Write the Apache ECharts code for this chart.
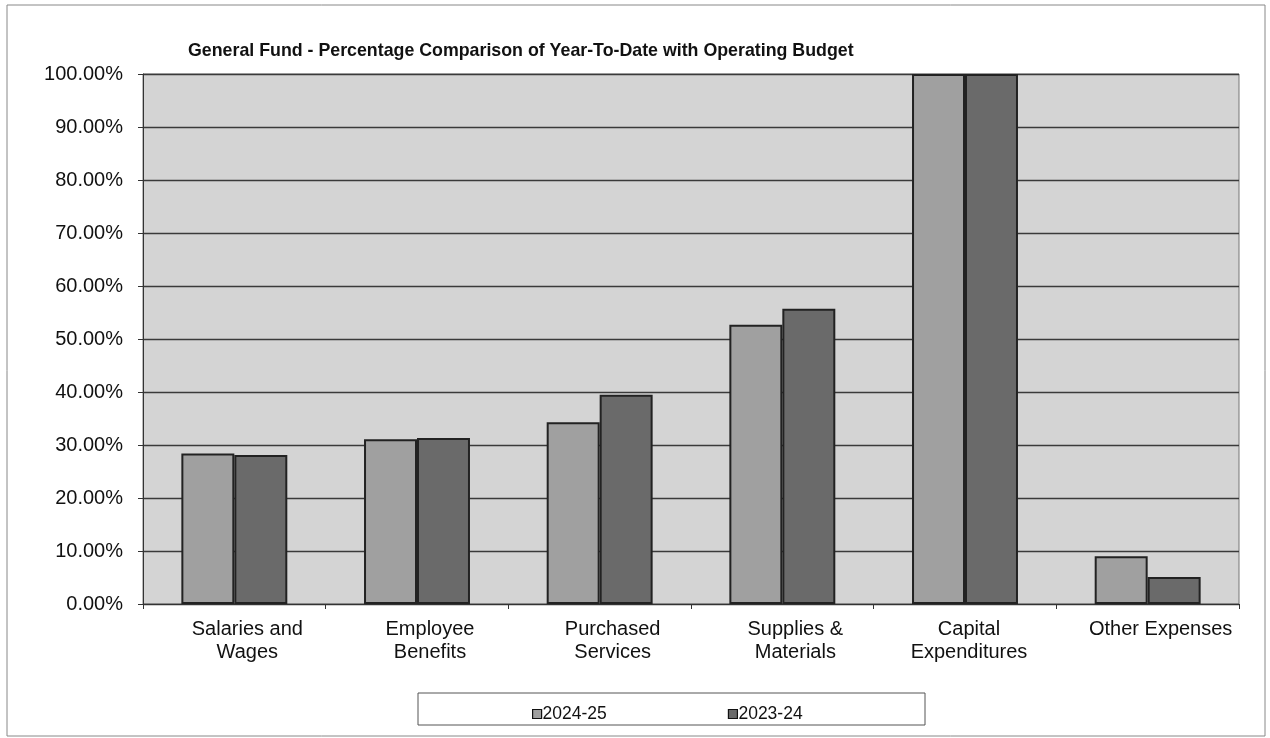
<!DOCTYPE html>
<html><head><meta charset="utf-8">
<script src="https://cdn.jsdelivr.net/npm/echarts@6/dist/echarts.min.js"></script>
<style>html,body{margin:0;padding:0;background:#fff}#c{width:1270px;height:738px}</style>
</head><body><div id="c"></div>
<script>
const categories = ["Salaries and\nWages","Employee\nBenefits","Purchased\nServices","Supplies &\nMaterials","Capital\nExpenditures","Other Expenses"];
const seriesNames = ["2024-25","2023-24"];
const values2024 = [28.4, 31.1, 34.3, 52.7, 100, 9.0];
const values2023 = [28.1, 31.3, 39.5, 55.7, 100, 5.1];
const yTicks = [0,10,20,30,40,50,60,70,80,90,100];

const chart = echarts.init(document.getElementById('c'));
const font = 'Liberation Sans, Arial, sans-serif';
const lbl = {fontFamily:font,fontSize:20,color:'#111',lineHeight:23};
chart.setOption({
  animation:false,
  backgroundColor:'#fff',
  title:{text:'General Fund - Percentage Comparison of Year-To-Date with Operating Budget',left:183,top:37,
    textStyle:{fontFamily:font,fontSize:17.8,fontWeight:'bold',color:'#111'}},
  grid:{left:143,right:31,top:74,bottom:134,backgroundColor:'#d4d4d4',show:true,borderWidth:1,borderColor:'#777'},
  legend:{data:seriesNames,left:527,top:700,itemGap:121,itemWidth:9,itemHeight:9,icon:'rect',
    textStyle:{fontFamily:font,fontSize:17.5,color:'#111',padding:[0,0,0,-4]},
    itemStyle:{borderColor:'#111',borderWidth:1.2}},
  graphic:[
    {type:'rect',shape:{x:7,y:5,width:1258,height:731},style:{fill:'none',stroke:'#888',lineWidth:1},z:-1},
    {type:'rect',shape:{x:418,y:693,width:507,height:32},style:{fill:'#fff',stroke:'#555',lineWidth:1},z:-1}
  ],
  xAxis:{type:'category',data:categories,
    axisLine:{lineStyle:{color:'#333',width:1}},
    axisTick:{show:true,length:5,lineStyle:{color:'#333'}},
    axisLabel:{fontFamily:font,fontSize:20,color:'#111',lineHeight:23,margin:14,interval:0,
      formatter:(v,i)=>v.split('\n').map(s=>(i===4?'{c|':'{n|')+s+'}').join('\n'),
      rich:{n:Object.assign({padding:[0,0,0,26]},lbl),c:Object.assign({padding:[0,0,0,8]},lbl)}}},
  yAxis:{type:'value',min:0,max:100,interval:10,
    axisLine:{show:true,lineStyle:{color:'#333',width:1}},
    axisTick:{show:true,length:5,lineStyle:{color:'#333'}},
    splitLine:{lineStyle:{color:'#3a3a3a',width:1.4}},
    axisLabel:{fontFamily:font,fontSize:20,color:'#111',margin:20,
      formatter:v=>v.toFixed(2)+'%'}},
  series:[
    {name:seriesNames[0],type:'bar',data:values2024,barGap:'0%',barCategoryGap:'42%',
      itemStyle:{color:'#a0a0a0',borderColor:'#222',borderWidth:2}},
    {name:seriesNames[1],type:'bar',data:values2023,
      itemStyle:{color:'#6a6a6a',borderColor:'#222',borderWidth:2}}
  ]
});
</script></body></html>
